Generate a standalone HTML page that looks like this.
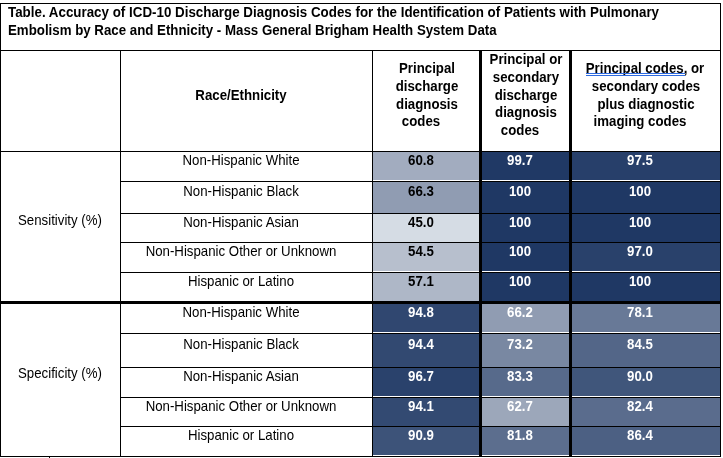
<!DOCTYPE html>
<html><head><meta charset="utf-8"><style>
html,body{margin:0;padding:0;background:#fff;width:723px;height:458px;overflow:hidden;position:relative}
div{position:absolute}
.t{position:absolute;transform:scaleY(1.1);will-change:transform;font-family:"Liberation Sans",sans-serif;white-space:nowrap;text-align:center;line-height:1;display:block}
.b{font-weight:bold}
u.sp{text-decoration:none;border-bottom:1.5px solid #3b6fd6;padding-bottom:0px}
</style></head><body>
<div style="left:373px;top:152px;width:106px;height:29px;background:#a2acbf;"></div>
<div style="left:373px;top:180px;width:106px;height:1px;background:#fff;"></div>
<div style="left:482px;top:152px;width:87px;height:29px;background:#203965;"></div>
<div style="left:482px;top:180px;width:87px;height:1px;background:#fff;"></div>
<div style="left:572px;top:152px;width:148px;height:29px;background:#273f6a;"></div>
<div style="left:572px;top:180px;width:148px;height:1px;background:#fff;"></div>
<div style="left:373px;top:182px;width:106px;height:31px;background:#909cb2;"></div>
<div style="left:482px;top:182px;width:87px;height:31px;background:#1f3864;"></div>
<div style="left:572px;top:182px;width:148px;height:31px;background:#1f3864;"></div>
<div style="left:373px;top:214px;width:106px;height:28px;background:#d5dce4;"></div>
<div style="left:482px;top:214px;width:87px;height:28px;background:#1f3864;"></div>
<div style="left:572px;top:214px;width:148px;height:28px;background:#1f3864;"></div>
<div style="left:373px;top:243px;width:106px;height:29px;background:#b7bfcd;"></div>
<div style="left:373px;top:271px;width:106px;height:1px;background:#fff;"></div>
<div style="left:482px;top:243px;width:87px;height:29px;background:#1f3864;"></div>
<div style="left:482px;top:271px;width:87px;height:1px;background:#fff;"></div>
<div style="left:572px;top:243px;width:148px;height:29px;background:#29416b;"></div>
<div style="left:572px;top:271px;width:148px;height:1px;background:#fff;"></div>
<div style="left:373px;top:273px;width:106px;height:28px;background:#aeb7c7;"></div>
<div style="left:482px;top:273px;width:87px;height:28px;background:#1f3864;"></div>
<div style="left:572px;top:273px;width:148px;height:28px;background:#1f3864;"></div>
<div style="left:373px;top:304px;width:106px;height:29px;background:#304770;"></div>
<div style="left:373px;top:332px;width:106px;height:1px;background:#fff;"></div>
<div style="left:482px;top:304px;width:87px;height:29px;background:#909cb2;"></div>
<div style="left:482px;top:332px;width:87px;height:1px;background:#fff;"></div>
<div style="left:572px;top:304px;width:148px;height:29px;background:#687997;"></div>
<div style="left:572px;top:332px;width:148px;height:1px;background:#fff;"></div>
<div style="left:373px;top:334px;width:106px;height:33px;background:#324971;"></div>
<div style="left:482px;top:334px;width:87px;height:33px;background:#7988a2;"></div>
<div style="left:572px;top:334px;width:148px;height:33px;background:#536688;"></div>
<div style="left:373px;top:368px;width:106px;height:29px;background:#2a426c;"></div>
<div style="left:373px;top:396px;width:106px;height:1px;background:#fff;"></div>
<div style="left:482px;top:368px;width:87px;height:29px;background:#576a8b;"></div>
<div style="left:482px;top:396px;width:87px;height:1px;background:#fff;"></div>
<div style="left:572px;top:368px;width:148px;height:29px;background:#40567b;"></div>
<div style="left:572px;top:396px;width:148px;height:1px;background:#fff;"></div>
<div style="left:373px;top:398px;width:106px;height:28px;background:#334a72;"></div>
<div style="left:482px;top:398px;width:87px;height:28px;background:#9ca7ba;"></div>
<div style="left:572px;top:398px;width:148px;height:28px;background:#5a6c8d;"></div>
<div style="left:373px;top:427px;width:106px;height:29px;background:#3d5379;"></div>
<div style="left:373px;top:455px;width:106px;height:1px;background:#fff;"></div>
<div style="left:482px;top:427px;width:87px;height:29px;background:#5c6e8e;"></div>
<div style="left:482px;top:455px;width:87px;height:1px;background:#fff;"></div>
<div style="left:572px;top:427px;width:148px;height:29px;background:#4c6083;"></div>
<div style="left:572px;top:455px;width:148px;height:1px;background:#fff;"></div>
<div style="left:0px;top:3px;width:721px;height:1px;background:#000;"></div>
<div style="left:0px;top:50px;width:721px;height:1px;background:#000;"></div>
<div style="left:0px;top:151px;width:721px;height:1px;background:#000;"></div>
<div style="left:120px;top:181px;width:601px;height:1px;background:#000;"></div>
<div style="left:120px;top:213px;width:601px;height:1px;background:#000;"></div>
<div style="left:120px;top:242px;width:601px;height:1px;background:#000;"></div>
<div style="left:120px;top:272px;width:601px;height:1px;background:#000;"></div>
<div style="left:120px;top:333px;width:601px;height:1px;background:#000;"></div>
<div style="left:120px;top:367px;width:601px;height:1px;background:#000;"></div>
<div style="left:120px;top:397px;width:601px;height:1px;background:#000;"></div>
<div style="left:120px;top:426px;width:601px;height:1px;background:#000;"></div>
<div style="left:0px;top:301px;width:721px;height:3px;background:#000;"></div>
<div style="left:0px;top:456px;width:721px;height:1px;background:#000;"></div>
<div style="left:49px;top:457px;width:1px;height:1px;background:#000;"></div>
<div style="left:0px;top:3px;width:1px;height:454px;background:#000;"></div>
<div style="left:720px;top:3px;width:1px;height:454px;background:#000;"></div>
<div style="left:120px;top:50px;width:1px;height:407px;background:#000;"></div>
<div style="left:372px;top:50px;width:1px;height:407px;background:#000;"></div>
<div style="left:479px;top:50px;width:3px;height:407px;background:#000;"></div>
<div style="left:569px;top:50px;width:3px;height:407px;background:#000;"></div>
<span class="t b" style="left:7.9px;top:5.82px;color:#000;font-size:13.36px;transform-origin:0 11.28px;text-align:left;width:700px">Table. Accuracy of ICD-10 Discharge Diagnosis Codes for the Identification of Patients with Pulmonary</span>
<span class="t b" style="left:7.9px;top:23.62px;color:#000;font-size:13.29px;transform-origin:0 11.28px;text-align:left;width:700px">Embolism by Race and Ethnicity - Mass General Brigham Health System Data</span>
<span class="t b" style="left:90.90px;top:89.38px;width:300px;color:#000;font-size:13.25px;transform-origin:0 11.22px">Race/Ethnicity</span>
<span class="t b" style="left:276.60px;top:61.78px;width:300px;color:#000;font-size:13.25px;transform-origin:0 11.22px">Principal</span>
<span class="t b" style="left:276.60px;top:80.28px;width:300px;color:#000;font-size:13.25px;transform-origin:0 11.22px">discharge</span>
<span class="t b" style="left:276.60px;top:98.08px;width:300px;color:#000;font-size:13.25px;transform-origin:0 11.22px">diagnosis</span>
<span class="t b" style="left:271.20px;top:115.28px;width:300px;color:#000;font-size:13.25px;transform-origin:0 11.22px">codes</span>
<span class="t b" style="left:375.80px;top:52.58px;width:300px;color:#000;font-size:13.25px;transform-origin:0 11.22px">Principal or</span>
<span class="t b" style="left:375.80px;top:70.78px;width:300px;color:#000;font-size:13.25px;transform-origin:0 11.22px">secondary</span>
<span class="t b" style="left:375.80px;top:88.88px;width:300px;color:#000;font-size:13.25px;transform-origin:0 11.22px">discharge</span>
<span class="t b" style="left:375.80px;top:106.18px;width:300px;color:#000;font-size:13.25px;transform-origin:0 11.22px">diagnosis</span>
<span class="t b" style="left:370.30px;top:123.88px;width:300px;color:#000;font-size:13.25px;transform-origin:0 11.22px">codes</span>
<span class="t b" style="left:495.20px;top:61.78px;width:300px;color:#000;font-size:13.25px;transform-origin:0 11.22px">Principal codes, or</span>
<div style="left:586px;top:73px;width:99px;height:1px;background:#2d6ae0;"></div>
<div style="left:586px;top:75px;width:99px;height:1px;background:#2d6ae0;"></div>
<span class="t b" style="left:495.70px;top:80.18px;width:300px;color:#000;font-size:13.25px;transform-origin:0 11.22px">secondary codes</span>
<span class="t b" style="left:495.70px;top:97.68px;width:300px;color:#000;font-size:13.25px;transform-origin:0 11.22px">plus diagnostic</span>
<span class="t b" style="left:490.00px;top:115.48px;width:300px;color:#000;font-size:13.25px;transform-origin:0 11.22px">imaging codes</span>
<span class="t" style="left:-89.75px;top:214.38px;width:300px;color:#000;font-size:13.25px;transform-origin:0 11.22px">Sensitivity (%)</span>
<span class="t" style="left:-89.75px;top:367.48px;width:300px;color:#000;font-size:13.25px;transform-origin:0 11.22px">Specificity (%)</span>
<span class="t" style="left:90.90px;top:154.48px;width:300px;color:#000;font-size:13.25px;transform-origin:0 11.22px">Non-Hispanic White</span>
<span class="t b" style="left:271.00px;top:154.48px;width:300px;color:#000;font-size:13.25px;transform-origin:0 11.22px">60.8</span>
<span class="t b" style="left:370.30px;top:154.48px;width:300px;color:#fff;font-size:13.25px;transform-origin:0 11.22px">99.7</span>
<span class="t b" style="left:490.20px;top:154.48px;width:300px;color:#fff;font-size:13.25px;transform-origin:0 11.22px">97.5</span>
<span class="t" style="left:90.90px;top:185.48px;width:300px;color:#000;font-size:13.25px;transform-origin:0 11.22px">Non-Hispanic Black</span>
<span class="t b" style="left:271.00px;top:185.48px;width:300px;color:#000;font-size:13.25px;transform-origin:0 11.22px">66.3</span>
<span class="t b" style="left:370.30px;top:185.48px;width:300px;color:#fff;font-size:13.25px;transform-origin:0 11.22px">100</span>
<span class="t b" style="left:490.20px;top:185.48px;width:300px;color:#fff;font-size:13.25px;transform-origin:0 11.22px">100</span>
<span class="t" style="left:90.90px;top:215.88px;width:300px;color:#000;font-size:13.25px;transform-origin:0 11.22px">Non-Hispanic Asian</span>
<span class="t b" style="left:271.00px;top:215.88px;width:300px;color:#000;font-size:13.25px;transform-origin:0 11.22px">45.0</span>
<span class="t b" style="left:370.30px;top:215.88px;width:300px;color:#fff;font-size:13.25px;transform-origin:0 11.22px">100</span>
<span class="t b" style="left:490.20px;top:215.88px;width:300px;color:#fff;font-size:13.25px;transform-origin:0 11.22px">100</span>
<span class="t" style="left:90.90px;top:245.08px;width:300px;color:#000;font-size:13.25px;transform-origin:0 11.22px">Non-Hispanic Other or Unknown</span>
<span class="t b" style="left:271.00px;top:245.08px;width:300px;color:#000;font-size:13.25px;transform-origin:0 11.22px">54.5</span>
<span class="t b" style="left:370.30px;top:245.08px;width:300px;color:#fff;font-size:13.25px;transform-origin:0 11.22px">100</span>
<span class="t b" style="left:490.20px;top:245.08px;width:300px;color:#fff;font-size:13.25px;transform-origin:0 11.22px">97.0</span>
<span class="t" style="left:90.90px;top:275.38px;width:300px;color:#000;font-size:13.25px;transform-origin:0 11.22px">Hispanic or Latino</span>
<span class="t b" style="left:271.00px;top:275.38px;width:300px;color:#000;font-size:13.25px;transform-origin:0 11.22px">57.1</span>
<span class="t b" style="left:370.30px;top:275.38px;width:300px;color:#fff;font-size:13.25px;transform-origin:0 11.22px">100</span>
<span class="t b" style="left:490.20px;top:275.38px;width:300px;color:#fff;font-size:13.25px;transform-origin:0 11.22px">100</span>
<span class="t" style="left:90.90px;top:305.78px;width:300px;color:#000;font-size:13.25px;transform-origin:0 11.22px">Non-Hispanic White</span>
<span class="t b" style="left:271.00px;top:305.78px;width:300px;color:#fff;font-size:13.25px;transform-origin:0 11.22px">94.8</span>
<span class="t b" style="left:370.30px;top:305.78px;width:300px;color:#fff;font-size:13.25px;transform-origin:0 11.22px">66.2</span>
<span class="t b" style="left:490.20px;top:305.78px;width:300px;color:#fff;font-size:13.25px;transform-origin:0 11.22px">78.1</span>
<span class="t" style="left:90.90px;top:338.48px;width:300px;color:#000;font-size:13.25px;transform-origin:0 11.22px">Non-Hispanic Black</span>
<span class="t b" style="left:271.00px;top:338.48px;width:300px;color:#fff;font-size:13.25px;transform-origin:0 11.22px">94.4</span>
<span class="t b" style="left:370.30px;top:338.48px;width:300px;color:#fff;font-size:13.25px;transform-origin:0 11.22px">73.2</span>
<span class="t b" style="left:490.20px;top:338.48px;width:300px;color:#fff;font-size:13.25px;transform-origin:0 11.22px">84.5</span>
<span class="t" style="left:90.90px;top:370.48px;width:300px;color:#000;font-size:13.25px;transform-origin:0 11.22px">Non-Hispanic Asian</span>
<span class="t b" style="left:271.00px;top:370.48px;width:300px;color:#fff;font-size:13.25px;transform-origin:0 11.22px">96.7</span>
<span class="t b" style="left:370.30px;top:370.48px;width:300px;color:#fff;font-size:13.25px;transform-origin:0 11.22px">83.3</span>
<span class="t b" style="left:490.20px;top:370.48px;width:300px;color:#fff;font-size:13.25px;transform-origin:0 11.22px">90.0</span>
<span class="t" style="left:90.90px;top:400.08px;width:300px;color:#000;font-size:13.25px;transform-origin:0 11.22px">Non-Hispanic Other or Unknown</span>
<span class="t b" style="left:271.00px;top:400.08px;width:300px;color:#fff;font-size:13.25px;transform-origin:0 11.22px">94.1</span>
<span class="t b" style="left:370.30px;top:400.08px;width:300px;color:#fff;font-size:13.25px;transform-origin:0 11.22px">62.7</span>
<span class="t b" style="left:490.20px;top:400.08px;width:300px;color:#fff;font-size:13.25px;transform-origin:0 11.22px">82.4</span>
<span class="t" style="left:90.90px;top:429.38px;width:300px;color:#000;font-size:13.25px;transform-origin:0 11.22px">Hispanic or Latino</span>
<span class="t b" style="left:271.00px;top:429.38px;width:300px;color:#fff;font-size:13.25px;transform-origin:0 11.22px">90.9</span>
<span class="t b" style="left:370.30px;top:429.38px;width:300px;color:#fff;font-size:13.25px;transform-origin:0 11.22px">81.8</span>
<span class="t b" style="left:490.20px;top:429.38px;width:300px;color:#fff;font-size:13.25px;transform-origin:0 11.22px">86.4</span>
</body></html>
